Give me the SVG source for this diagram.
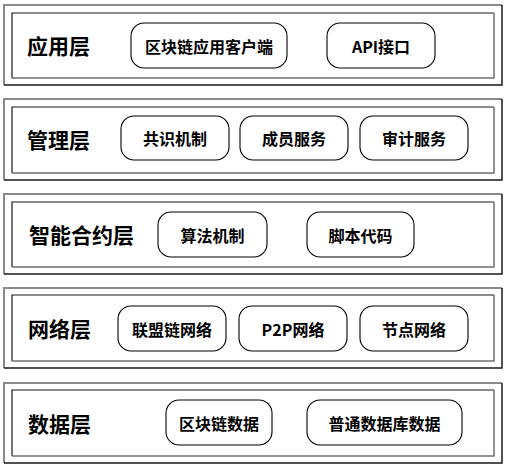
<svg xmlns="http://www.w3.org/2000/svg" width="511" height="471" viewBox="0 0 511 471">
<style>
.ol{fill:none;stroke:#8a8a8a;stroke-width:2}
.od{fill:none;stroke:#1a1a1a;stroke-width:1.5}
.il{fill:none;stroke:#1a1a1a;stroke-width:1.2}
.id{fill:none;stroke:#707070;stroke-width:1.5}
.pill{fill:#fff;stroke:#000;stroke-width:1.1}
.lt{font-family:"Noto Sans CJK SC","Noto Sans",sans-serif;font-weight:bold;font-size:21px;fill:#000;dominant-baseline:central}
.pt{font-family:"Noto Sans CJK SC","Noto Sans",sans-serif;font-weight:bold;font-size:16px;fill:#000;text-anchor:middle;dominant-baseline:central}
</style>
<rect width="511" height="471" fill="#fff"/>
<g id="layer-app">
<polyline class="ol" points="4,85 4,5 502,5"/><polyline class="od" points="502,5 502,85 4,85"/>
<polyline class="il" points="12,78 12,13 494,13"/><polyline class="id" points="494,13 494,78 12,78"/>
<text class="lt" x="27" y="45">应用层</text>
</g>
<g id="node-client"><rect class="pill" x="131" y="23" width="156" height="45" rx="13"/><text class="pt" x="209" y="45.5">区块链应用客户端</text></g>
<g id="node-api"><rect class="pill" x="327" y="23" width="108" height="45" rx="13"/><text class="pt" x="381" y="45.5">API接口</text></g>

<g id="layer-mgmt">
<polyline class="ol" points="4,180 4,99 502,99"/><polyline class="od" points="502,99 502,180 4,180"/>
<polyline class="il" points="12,173 12,107 494,107"/><polyline class="id" points="494,107 494,173 12,173"/>
<text class="lt" x="27" y="139">管理层</text>
</g>
<g id="node-consensus"><rect class="pill" x="121" y="116" width="108" height="44" rx="13"/><text class="pt" x="175" y="138">共识机制</text></g>
<g id="node-member"><rect class="pill" x="240" y="116" width="108" height="44" rx="13"/><text class="pt" x="294" y="138">成员服务</text></g>
<g id="node-audit"><rect class="pill" x="360" y="116" width="108" height="44" rx="13"/><text class="pt" x="414" y="138">审计服务</text></g>

<g id="layer-contract">
<polyline class="ol" points="4,274 4,194 502,194"/><polyline class="od" points="502,194 502,274 4,274"/>
<polyline class="il" points="12,267 12,202 494,202"/><polyline class="id" points="494,202 494,267 12,267"/>
<text class="lt" x="29" y="234">智能合约层</text>
</g>
<g id="node-algo"><rect class="pill" x="158" y="212" width="109" height="45" rx="13"/><text class="pt" x="212.5" y="234.5">算法机制</text></g>
<g id="node-script"><rect class="pill" x="307" y="212" width="107" height="45" rx="13"/><text class="pt" x="360.5" y="234.5">脚本代码</text></g>

<g id="layer-net">
<polyline class="ol" points="4,368 4,288 502,288"/><polyline class="od" points="502,288 502,368 4,368"/>
<polyline class="il" points="12,361 12,295 494,295"/><polyline class="id" points="494,295 494,361 12,361"/>
<text class="lt" x="28" y="328">网络层</text>
</g>
<g id="node-alliance"><rect class="pill" x="118" y="306" width="108" height="45" rx="13"/><text class="pt" x="172" y="328.5">联盟链网络</text></g>
<g id="node-p2p"><rect class="pill" x="239" y="306" width="108" height="45" rx="13"/><text class="pt" x="293" y="328.5">P2P网络</text></g>
<g id="node-nodes"><rect class="pill" x="360" y="306" width="108" height="45" rx="13"/><text class="pt" x="414" y="328.5">节点网络</text></g>

<g id="layer-data">
<polyline class="ol" points="4,463 4,383 502,383"/><polyline class="od" points="502,383 502,463 4,463"/>
<polyline class="il" points="12,456 12,390 494,390"/><polyline class="id" points="494,390 494,456 12,456"/>
<text class="lt" x="28" y="423">数据层</text>
</g>
<g id="node-chaindata"><rect class="pill" x="166" y="400" width="106" height="45" rx="13"/><text class="pt" x="219" y="422.5">区块链数据</text></g>
<g id="node-dbdata"><rect class="pill" x="307" y="400" width="155" height="45" rx="13"/><text class="pt" x="384.5" y="422.5">普通数据库数据</text></g>
<g id="connectors"></g>
</svg>
